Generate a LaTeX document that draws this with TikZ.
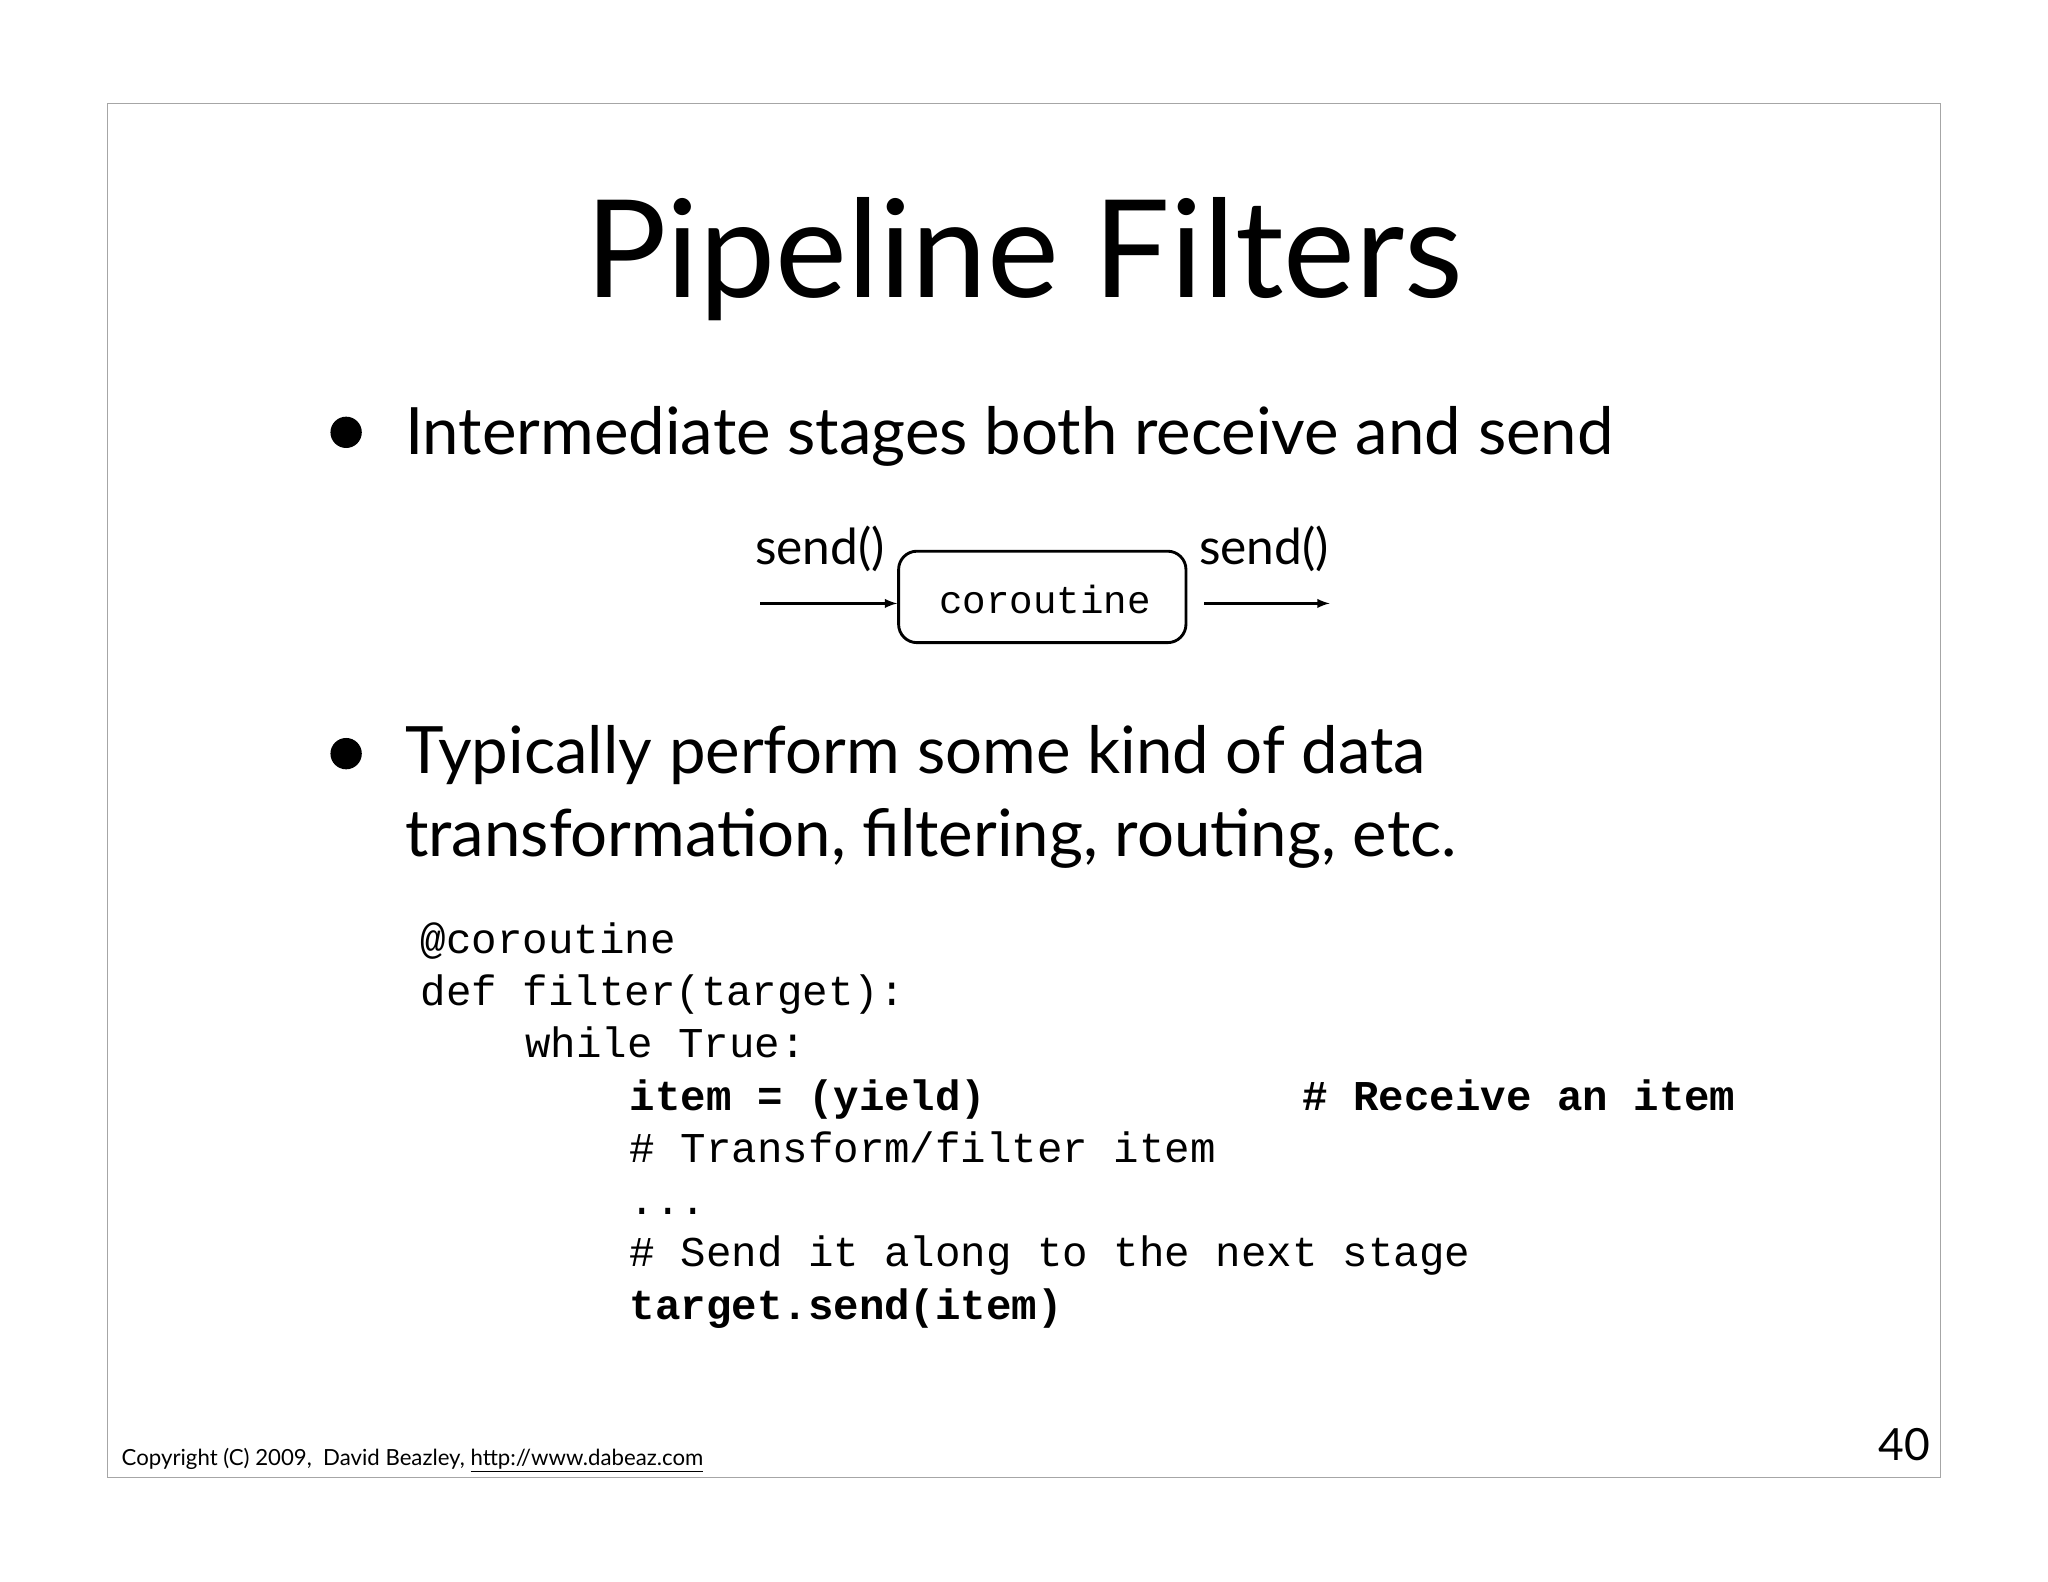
\documentclass[tikz,border=0pt]{standalone}
\usepackage{fontspec}
\setmainfont{Lato}
\setmonofont{Liberation Mono}
\begin{document}
\begin{tikzpicture}[x=1pt,y=-1pt,
  txt/.style={anchor=base west,inner sep=0pt},
  big/.style={txt,font=\fontsize{50}{60}\selectfont},
  code/.style={txt,font=\fontsize{32.5}{40}\selectfont\ttfamily},
  bcode/.style={code,font=\fontsize{32.5}{40}\selectfont\ttfamily\bfseries},
  arr/.style={-latex,line width=2.2pt}]
\useasboundingbox (0,0) rectangle (1568,1211);
\fill[white] (0,0) rectangle (1568,1211);
\draw[line width=0.8pt,gray!70] (82,79) rectangle (1486,1131);
\node[anchor=base,inner sep=0pt,font=\fontsize{104}{120}\selectfont] (title) at (784,228) {Pipeline Filters};
\fill (265,331) circle (12);
\node[big] (b1) at (310,348) {Intermediate stages both receive and send};
\node[draw,line width=2.2pt,rounded corners=14pt,minimum width=220pt,minimum height=70pt,inner sep=0pt] (co) at (798,457) {};
\node[inner sep=0pt,font=\fontsize{30}{36}\selectfont\ttfamily] (cot) at (800,459) {coroutine};
\node[txt,font=\fontsize{38}{44}\selectfont] (s1) at (578,432) {send()};
\node[txt,font=\fontsize{38}{44}\selectfont] (s2) at (918,432) {send()};
\coordinate (a1) at (582,462); \coordinate (a2) at (922,462); \coordinate (a3) at (1018,462);
\draw[arr] (a1) -- (co.west |- a1);
\draw[arr] (a2) -- (a3);
\fill (265,577) circle (12);
\node[big] (b2) at (310,592) {Typically perform some kind of data};
\node[big] (b3) at (310,656) {transformation, filtering, routing, etc.};
\node[code] (c1) at (322,730) {@coroutine};
\node[code] (c2) at (322,770) {def filter(target):};
\node[code] (c3) at (402,810) {while True:};
\node[bcode] (c4) at (482,850) {item = (yield)};
\node[bcode] (c4b) at (997,850) {\# Receive an item};
\node[code] (c5) at (482,890) {\# Transform/filter item};
\node[code] (c6) at (482,930) {...};
\node[code] (c7) at (482,970) {\# Send it along to the next stage};
\node[bcode] (c8) at (482,1010) {target.send(item)};
\node[txt,font=\fontsize{17}{20}\selectfont] (cp) at (93,1122) {Copyright (C) 2009,\ \ David Beazley, \underline{http://www.dabeaz.com}};
\node[anchor=base east,inner sep=0pt,font=\fontsize{34}{40}\selectfont] (pg) at (1478,1118) {40};
\end{tikzpicture}
\end{document}
